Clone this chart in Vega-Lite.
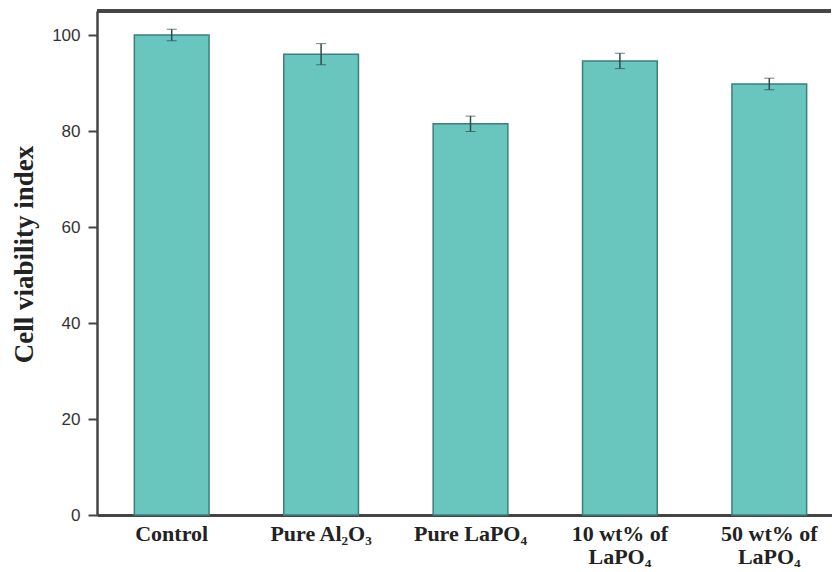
{
  "$schema": "https://vega.github.io/schema/vega-lite/v6.json",
  "width": 734,
  "height": 504,
  "padding": {"left": 10, "top": 9, "right": 0, "bottom": 0},
  "background": "white",
  "config": {"view": {"stroke": null}},
  "data": {"values": [
    {"sample": "Control", "value": 100.0, "lo": 98.8, "hi": 101.2},
    {"sample": "Pure Al₂O₃", "value": 96.0, "lo": 93.8, "hi": 98.2},
    {"sample": "Pure LaPO₄", "value": 81.5, "lo": 79.9, "hi": 83.1},
    {"sample": "10 wt% of|LaPO₄", "value": 94.6, "lo": 93.0, "hi": 96.2},
    {"sample": "50 wt% of|LaPO₄", "value": 89.8, "lo": 88.6, "hi": 91.0}
  ]},
  "layer": [
    {
      "mark": {"type": "bar", "fill": "#68c6bf", "stroke": "#3d7f7a", "strokeWidth": 1.5},
      "encoding": {
        "x": {
          "field": "sample", "type": "nominal", "sort": null,
          "scale": {"range": [0, 747], "paddingInner": 0.5, "paddingOuter": 0.25},
          "axis": {
            "title": null, "labelAngle": 0, "ticks": false, "labelPadding": 8,
            "labelExpr": "split(datum.label, '|')",
            "labelFont": "Liberation Serif", "labelFontWeight": "bold", "labelFontSize": 22,
            "labelColor": "#222", "labelLineHeight": 23, "labelBaseline": "top",
            "domainColor": "#444", "domainWidth": 3
          }
        },
        "y": {
          "field": "value", "type": "quantitative", "title": "Cell viability index",
          "scale": {"domain": [0, 105], "nice": false},
          "axis": {
            "values": [0, 20, 40, 60, 80, 100],
            "grid": false, "tickSize": 9, "tickWidth": 2, "tickColor": "#444",
            "labelPadding": 8, "labelFont": "Liberation Sans", "labelFontSize": 17, "labelColor": "#333",
            "domainColor": "#444", "domainWidth": 2.5,
            "titleFont": "Liberation Serif", "titleFontWeight": "bold", "titleFontSize": 27,
            "titleColor": "#222", "titlePadding": 13, "titleY": 243
          }
        }
      }
    },
    {
      "mark": {"type": "errorbar", "ticks": {"size": 10, "color": "#2f4a48"}, "rule": {"color": "#2f4a48", "strokeWidth": 1.5}},
      "encoding": {
        "x": {"field": "sample", "type": "nominal", "sort": null},
        "y": {"field": "lo", "type": "quantitative", "title": "Cell viability index"},
        "y2": {"field": "hi"}
      }
    },
    {
      "mark": {"type": "rule", "color": "#444", "strokeWidth": 3},
      "encoding": {"y": {"datum": 105}}
    }
  ]
}
